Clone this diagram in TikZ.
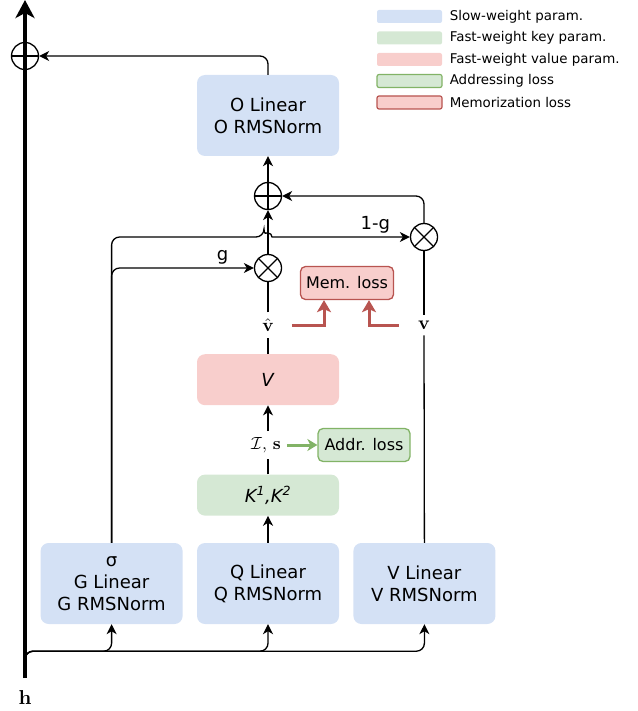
\RequirePackage{fix-cm}
\documentclass[tikz,border=0pt]{standalone}
\usepackage{graphicx}
\usepackage[no-math]{fontspec}
\setmainfont{DejaVu Sans}
\usetikzlibrary{positioning, calc, arrows.meta}
\definecolor{slowblue}{RGB}{212,225,245}
\definecolor{keygreen}{RGB}{213,232,212}
\definecolor{valred}{RGB}{248,206,204}
\definecolor{addrgreen}{RGB}{130,179,102}
\definecolor{memred}{RGB}{184,84,80}
\newcommand{\boxfont}{\fontsize{18}{21.7}\selectfont}
\newcommand{\lossfont}{\fontsize{16}{19}\selectfont}
\newcommand{\legfont}{\fontsize{13.4}{15}\selectfont}
\newcommand{\mathht}[2]{\resizebox{!}{#1}{$#2$}}
\tikzstyle{base} = [rectangle, rounded corners=8pt, minimum width=142pt, text centered, align=center, font=\boxfont]
\tikzstyle{slow} = [base, fill=slowblue, minimum height=81pt]
\tikzstyle{fastkey} = [base, fill=keygreen, minimum height=41pt]
\tikzstyle{fastval} = [base, fill=valred, minimum height=51pt]
\tikzstyle{lossbox} = [rectangle, rounded corners=5pt, line width=1.3pt, font=\lossfont, inner sep=0pt, minimum height=33pt]
\tikzstyle{addr} = [lossbox, draw=addrgreen, fill=keygreen, minimum width=92pt]
\tikzstyle{mem} = [lossbox, draw=memred, fill=valred, minimum width=93pt]
\tikzstyle{op} = [circle, draw, line width=1.3pt, minimum size=27pt, inner sep=0pt]
\tikzstyle{oplus} = [op, path picture={\draw[line width=1.3pt] (path picture bounding box.north) -- (path picture bounding box.south) (path picture bounding box.west) -- (path picture bounding box.east);}]
\tikzstyle{otimes} = [op, path picture={\draw[line width=1.3pt] (path picture bounding box.north west) -- (path picture bounding box.south east) (path picture bounding box.north east) -- (path picture bounding box.south west);}]
\tikzstyle{vec} = [inner sep=6pt]
\tikzstyle{lbl} = [font=\boxfont]
\tikzstyle{wire} = [line width=1.3pt]
\tikzstyle{arrow} = [wire, -{Stealth[length=10pt, width=10pt, inset=3pt]}]
\tikzstyle{residual} = [line width=4pt, -{Stealth[length=18pt, width=19pt, inset=5pt]}]
\tikzstyle{memarrow} = [line width=3pt, draw=memred, -{Stealth[length=12pt, width=14pt, inset=3pt]}]
\tikzstyle{addrarrow} = [line width=3pt, draw=addrgreen, -{Stealth[length=10pt, width=12pt, inset=3pt]}]
\tikzstyle{swatch} = [rectangle, rounded corners=2pt, minimum width=65pt, minimum height=13pt, inner sep=0pt, line width=1.2pt]
\tikzstyle{legtext} = [font=\legfont, inner sep=0pt]

\begin{document}
\begin{tikzpicture}[x=1pt, y=-1pt]
\useasboundingbox (0,0) rectangle (637,711);

\node (Q_BOX) [slow] at (268,583.5) {Q Linear\\Q RMSNorm};
\node (G_BOX) [slow, left=14pt of Q_BOX] {σ\\G Linear\\G RMSNorm};
\node (V_SLOW) [slow, right=14pt of Q_BOX] {V Linear\\V RMSNorm};
\node (K_BOX) [fastkey, above=27pt of Q_BOX] {\textit{K\textsuperscript{1},K\textsuperscript{2}}};
\node (V_BOX) [fastval, above=69pt of K_BOX] {\textit{V}};
\node (ISEL) [vec] at (266,445) {\mathht{12pt}{\mathcal{I},\,\mathbf{s}}};
\node (ADDR) [addr] at (364,445) {Addr. loss};
\node (VHAT) [vec] at (268,325) {\mathht{13pt}{\hat{\mathbf{v}}}};
\node (V_VEC) [vec] at (424,325) {\mathht{8.5pt}{\mathbf{v}}};
\node (MEM) [mem] at (347,283) {Mem. loss};
\node (G_MUL) [otimes] at (268,268) {};
\node (ONEG_MUL) [otimes] at (424,237) {};
\node (OPLUS_MID) [oplus] at (268,196) {};
\node (O_BOX) [slow] at (268,115.5) {O Linear\\O RMSNorm};
\node (OPLUS_OUT) [oplus] at (25,56) {};
\node (H) [anchor=north, inner sep=0pt] at (25,690) {\mathht{14pt}{\mathbf{h}}};
\coordinate (TOP) at (25,0);
\coordinate (BUS) at (25,666);
\coordinate (HOP) at (268,237);

% legend
\node (LEG_SLOW) [swatch, fill=slowblue] at (409.5,16.5) {};
\node (LEG_KEY) [swatch, fill=keygreen, below=7.3pt of LEG_SLOW] {};
\node (LEG_VAL) [swatch, fill=valred, below=7.3pt of LEG_KEY] {};
\node (LEG_ADDR) [swatch, draw=addrgreen, fill=keygreen, below=7.3pt of LEG_VAL] {};
\node (LEG_MEM) [swatch, draw=memred, fill=valred, below=7.3pt of LEG_ADDR] {};
\node (LEG_SLOW_TXT) [legtext, right=7pt of LEG_SLOW] {Slow-weight param.};
\node (LEG_KEY_TXT) [legtext, right=7pt of LEG_KEY] {Fast-weight key param.};
\node (LEG_VAL_TXT) [legtext, right=7pt of LEG_VAL] {Fast-weight value param.};
\node (LEG_ADDR_TXT) [legtext, right=7pt of LEG_ADDR] {Addressing loss};
\node (LEG_MEM_TXT) [legtext, right=7pt of LEG_MEM] {Memorization loss};

% residual stream
\draw [residual, shorten <=12pt] (H.north) -- (TOP);
\draw [arrow, rounded corners=8pt] (BUS) |- ($(G_BOX.south)+(0,27)$) -- (G_BOX.south);
\draw [arrow, rounded corners=8pt] (BUS) |- ($(Q_BOX.south)+(0,27)$) -- (Q_BOX.south);
\draw [arrow, rounded corners=8pt] (BUS) |- ($(V_SLOW.south)+(0,27)$) -- (V_SLOW.south);

\draw [arrow] (Q_BOX) -- (K_BOX);
\draw [wire] (K_BOX.north) -- (K_BOX.north |- ISEL.south);
\draw [arrow] (V_BOX.south |- ISEL.north) -- (V_BOX.south);
\draw [addrarrow] (ISEL.east) -- (ADDR.west);
\draw [wire] (V_BOX.north) -- (VHAT.south);
\draw [wire] (VHAT.north) -- (G_MUL.south);
\draw [wire] (V_SLOW.north) -- (V_VEC.south);
\draw [wire] (V_VEC.north) -- (ONEG_MUL.south);

\draw [memarrow, shorten <=12pt] (VHAT.east) -| ($(MEM.south)+(-23,0)$);
\draw [memarrow, shorten <=13pt] (V_VEC.west) -| ($(MEM.south)+(22,0)$);

\draw [arrow, rounded corners=8pt] (G_BOX.north) |- node[lbl, above, pos=0.89] {g} (G_MUL.west);
\draw [arrow, rounded corners=8pt] (G_BOX.north) |- ($(HOP)+(-4,0)$) [sharp corners]
  arc [start angle=180, end angle=0, radius=4pt] -- node[lbl, above, pos=0.75] {1-g} (ONEG_MUL.west);

\draw [arrow] (G_MUL.north) -- (OPLUS_MID.south);
\draw [arrow, rounded corners=8pt] (ONEG_MUL.north) |- (OPLUS_MID.east);
\draw [arrow] (OPLUS_MID.north) -- (O_BOX.south);
\draw [arrow, rounded corners=8pt] (O_BOX.north) |- (OPLUS_OUT.east);

\end{tikzpicture}
\end{document}
